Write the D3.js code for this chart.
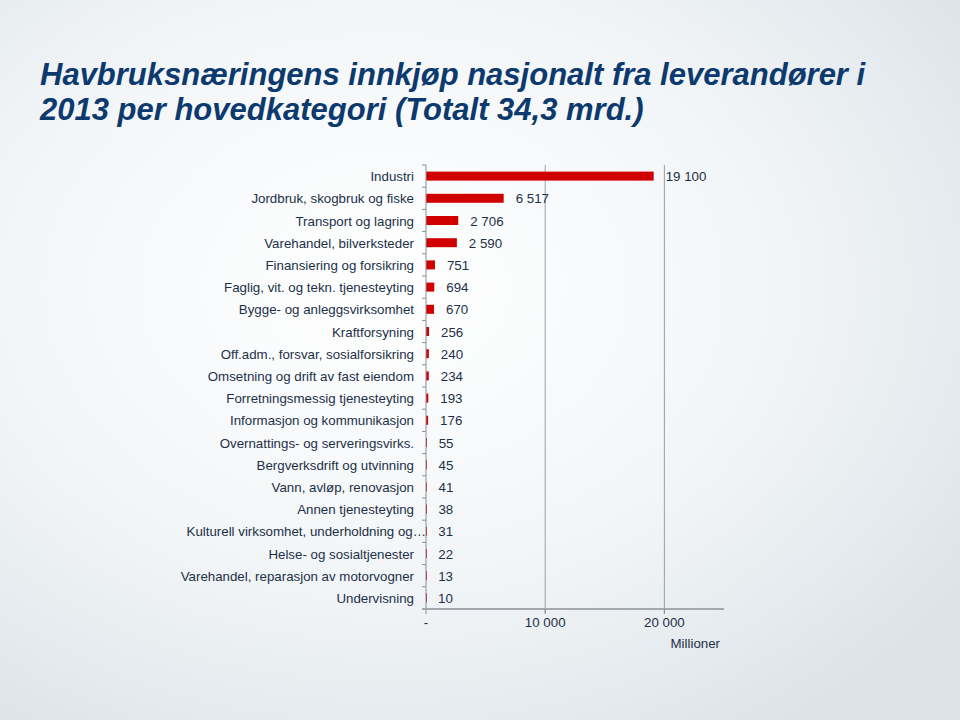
<html>
<meta charset="utf-8">
<head>
  <title>Havbruksnæringens innkjøp</title>
</head>
<style>
body { margin: 0; }
text { font-family: "Liberation Sans", Arial, sans-serif; }
</style>
<body>
<svg width="960" height="720"></svg>
<script src="https://d3js.org/d3.v7.min.js"></script>
<script>
var width = 960, height = 720

var categories = [
  "Industri",
  "Jordbruk, skogbruk og fiske",
  "Transport og lagring",
  "Varehandel, bilverksteder",
  "Finansiering og forsikring",
  "Faglig, vit. og tekn. tjenesteyting",
  "Bygge- og anleggsvirksomhet",
  "Kraftforsyning",
  "Off.adm., forsvar, sosialforsikring",
  "Omsetning og drift av fast eiendom",
  "Forretningsmessig tjenesteyting",
  "Informasjon og kommunikasjon",
  "Overnattings- og serveringsvirks.",
  "Bergverksdrift og utvinning",
  "Vann, avløp, renovasjon",
  "Annen tjenesteyting",
  "Kulturell virksomhet, underholdning og…",
  "Helse- og sosialtjenester",
  "Varehandel, reparasjon av motorvogner",
  "Undervisning"
]
var values = [19100, 6517, 2706, 2590, 751, 694, 670, 256, 240, 234, 193, 176, 55, 45, 41, 38, 31, 22, 13, 10]
var xTicks = [0, 10000, 20000]
var xTickLabels = ["-", "10 000", "20 000"]

var svg = d3.select('svg')

// background
var defs = svg.append('defs')
var grad = defs.append('radialGradient').attr('id', 'bg')
  .attr('cx', '40%').attr('cy', '40%').attr('r', '75%')
grad.append('stop').attr('offset', '0%').attr('stop-color', '#ffffff')
grad.append('stop').attr('offset', '55%').attr('stop-color', '#f2f5f7')
grad.append('stop').attr('offset', '100%').attr('stop-color', '#dbe3e8')
svg.append('rect').attr('width', width).attr('height', height).attr('fill', 'url(#bg)')

// title
var title = svg.append('text')
  .attr('fill', '#0d3a6e')
  .style('font-weight', 'bold')
  .style('font-style', 'italic')
  .style('font-size', '31px')
title.append('tspan').attr('x', 40).attr('y', 85).text('Havbruksnæringens innkjøp nasjonalt fra leverandører i')
title.append('tspan').attr('x', 40).attr('y', 120).text('2013 per hovedkategori (Totalt 34,3 mrd.)')

var x = d3.scaleLinear().domain([0, 25000]).range([426, 724])
var y = d3.scaleBand().domain(categories).range([165, 609])

var textColor = '#1c3048'
var fs = '13.3px'

// gridlines
svg.selectAll('.grid')
  .data(xTicks.slice(1))
  .enter().append('line')
  .attr('x1', function(d) { return x(d) })
  .attr('x2', function(d) { return x(d) })
  .attr('y1', 165)
  .attr('y2', 613)
  .attr('stroke', '#9aa0a6')
  .attr('stroke-width', 1)

// bars
svg.selectAll('.bar')
  .data(values)
  .enter().append('rect')
  .attr('x', x(0))
  .attr('y', function(d, i) { return y(categories[i]) + y.bandwidth() / 2 - 4.5 })
  .attr('width', function(d) { return Math.max(x(d) - x(0), 1) })
  .attr('height', 9)
  .attr('fill', '#d00000')

// value labels
svg.selectAll('.val')
  .data(values)
  .enter().append('text')
  .attr('x', function(d) { return x(d) + 12 })
  .attr('y', function(d, i) { return y(categories[i]) + y.bandwidth() / 2 + 5 })
  .attr('fill', textColor)
  .style('font-size', fs)
  .text(function(d) { return d3.format(',')(d).replace(/,/g, ' ') })

// y axis
var yAxis = svg.append('g')
  .attr('transform', 'translate(' + x(0) + ',0)')
yAxis.append('line')
  .attr('x1', 0).attr('x2', 0).attr('y1', 165).attr('y2', 609)
  .attr('stroke', '#8a9096')
yAxis.selectAll('.tick')
  .data(categories)
  .enter().append('line')
  .attr('x1', -4).attr('x2', 0)
  .attr('y1', function(d) { return y(d) })
  .attr('y2', function(d) { return y(d) })
  .attr('stroke', '#8a9096')
yAxis.selectAll('.lab')
  .data(categories)
  .enter().append('text')
  .attr('x', function(d) { return d.slice(-1) == '…' ? 0 : -12 })
  .attr('y', function(d) { return y(d) + y.bandwidth() / 2 + 5 })
  .attr('text-anchor', 'end')
  .attr('fill', textColor)
  .style('font-size', fs)
  .text(function(d) { return d })

// x axis
var xAxis = svg.append('g').attr('transform', 'translate(0,609)')
xAxis.append('line')
  .attr('x1', 422).attr('x2', x(25000)).attr('y1', 0).attr('y2', 0)
  .attr('stroke', '#a3a9ae').attr('stroke-width', 2)
xAxis.selectAll('.xt')
  .data(xTicks)
  .enter().append('line')
  .attr('x1', function(d) { return x(d) })
  .attr('x2', function(d) { return x(d) })
  .attr('y1', 0).attr('y2', 5)
  .attr('stroke', '#8a9096')
xAxis.selectAll('.xl')
  .data(xTicks)
  .enter().append('text')
  .attr('x', function(d) { return x(d) })
  .attr('y', 18)
  .attr('text-anchor', 'middle')
  .attr('fill', textColor)
  .style('font-size', fs)
  .text(function(d, i) { return xTickLabels[i] })

svg.append('text')
  .attr('x', 720).attr('y', 648)
  .attr('text-anchor', 'end')
  .attr('fill', textColor)
  .style('font-size', fs)
  .text('Millioner')
</script>
</body>
</html>
